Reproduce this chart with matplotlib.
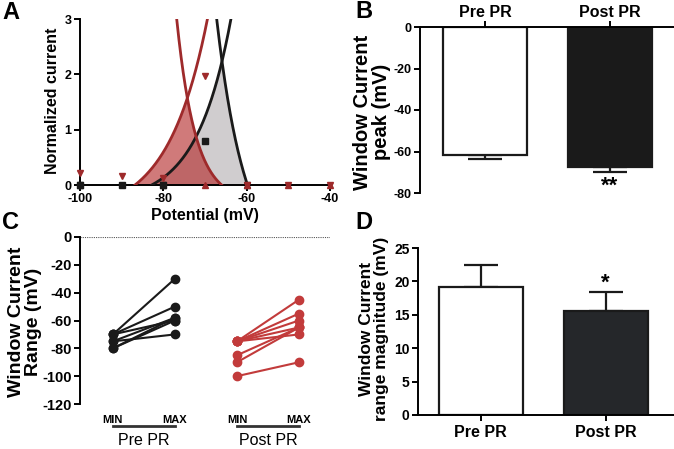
import numpy as np
import matplotlib
matplotlib.use("Agg")
import matplotlib.pyplot as plt

plt.rcParams['font.family'] = ['Liberation Sans', 'DejaVu Sans']
plt.rcParams['font.weight'] = 'bold'
plt.rcParams['axes.unicode_minus'] = False

# ---------------- data ----------------
# Panel A: exponential fits  y = amp*(exp(sign*(V - v0)/k) - 1)
black_act = dict(v0=-82.8, k=8.2, amp=0.327, sign=1)
black_inact = dict(v0=-59.8, k=7.0, amp=1.6, sign=-1)
red_act = dict(v0=-86.8, k=9.4, amp=0.56, sign=1)
red_inact = dict(v0=-66.0, k=4.5, amp=0.30, sign=-1)

a_sq_x = [-100, -90, -80, -70]
a_sq_y = [0, 0, 0, 0.8]
a_blk_tri_x = [-100, -80, -60]
a_blk_tri_y = [0, 0, 0]
a_red_dn_x = [-100, -90, -80, -70, -60, -50, -40]
a_red_dn_y = [0.22, 0.17, 0.12, 1.97, 0, 0, 0]
a_red_up_x = [-70, -60, -50, -40]
a_red_up_y = [0, 0, 0, 0]

# Panel B
groups = ['Pre PR', 'Post PR']
peak_mean = [-61.5, -67.5]
peak_err = [2.0, 2.5]

# Panel C
pre_min = [-70, -70, -75, -70, -80, -80, -75]
pre_max = [-30, -50, -58, -60, -58, -60, -70]
post_min = [-75, -75, -75, -75, -75, -85, -90, -100]
post_max = [-45, -55, -60, -65, -70, -65, -65, -90]
c_ticklabels = ['MIN', 'MAX', 'MIN', 'MAX']

# Panel D
mag_mean = [19.1, 15.6]
mag_err = [3.35, 2.85]

BLK = '#1a1a1a'
DRED = '#9e2a2b'
RED = '#c23b3b'

W, H = 674, 449
fig = plt.figure(figsize=(W / 100, H / 100), dpi=100)


def ax_px(l, t, r, b):
    return fig.add_axes([l / W, 1 - b / H, (r - l) / W, (b - t) / H])


def ylabel_px(x, y, s, size, ls=0.9):
    fig.text(x / W, 1 - y / H, s, rotation=90, ha='center', va='center',
             multialignment='center', fontsize=size, fontweight='bold', linespacing=ls)


def curve(p, V):
    return p['amp'] * (np.exp(p['sign'] * (V - p['v0']) / p['k']) - 1)


SPW = 1.4

# ---------------- Panel A ----------------
axA = ax_px(80, 19, 330, 185)
V = np.linspace(-100, -40, 2000)
ba, bi = curve(black_act, V), curve(black_inact, V)
ra, ri = curve(red_act, V), curve(red_inact, V)
bmin = np.clip(np.minimum(ba, bi), 0, None)
rmin = np.clip(np.minimum(ra, ri), 0, None)
axA.fill_between(V, 0, bmin, where=bmin > 0, color='#d0cdcf', lw=0, zorder=1)
axA.fill_between(V, 0, rmin, where=rmin > 0, color='#b22222', alpha=0.6, lw=0, zorder=2)
for arr, c in [(ba, BLK), (bi, BLK), (ra, DRED), (ri, DRED)]:
    m = arr >= 0
    axA.plot(V[m], arr[m], color=c, lw=2, zorder=3)
axA.plot(a_sq_x, a_sq_y, 's', color=BLK, ms=5, clip_on=False, zorder=5)
axA.plot(a_blk_tri_x, a_blk_tri_y, '^', color=BLK, ms=5, clip_on=False, zorder=5)
axA.plot(a_blk_tri_x, a_blk_tri_y, 'v', color=BLK, ms=5, clip_on=False, zorder=5)
axA.plot(a_red_dn_x, a_red_dn_y, 'v', color=DRED, ms=5, clip_on=False, zorder=6)
axA.plot(a_red_up_x, a_red_up_y, '^', color=DRED, ms=5, clip_on=False, zorder=6)
axA.set_xlim(-100, -40)
axA.set_ylim(0, 3)
axA.set_xticks([-100, -80, -60, -40])
axA.set_yticks([0, 1, 2, 3])
for s in ['top', 'right']:
    axA.spines[s].set_visible(False)
for s in ['left', 'bottom']:
    axA.spines[s].set_linewidth(SPW)
axA.tick_params(width=SPW, length=4, labelsize=9, pad=2)
axA.set_xlabel('Potential (mV)', fontsize=11.5, fontweight='bold', labelpad=2)
ylabel_px(53, 101, 'Normalized current', 11.5)

# ---------------- Panel B ----------------
axB = ax_px(420, 27, 674, 193)
xs = [0, 1]
axB.bar(xs, peak_mean, width=0.672, color=['white', BLK], edgecolor=BLK, lw=1.6, zorder=2)
axB.errorbar(xs, peak_mean, yerr=[peak_err, [0, 0]], fmt='none', ecolor=BLK,
             elinewidth=1.6, capsize=12, capthick=1.6, zorder=1)
axB.set_xlim(-0.52, 1.512)
axB.set_ylim(-80, 0)
axB.set_yticks([0, -20, -40, -60, -80])
axB.set_xticks(xs)
axB.xaxis.tick_top()
axB.spines['bottom'].set_visible(False)
axB.spines['right'].set_visible(False)
for s in ['left', 'top']:
    axB.spines[s].set_linewidth(SPW)
axB.tick_params(axis='y', width=SPW, length=4, labelsize=9, pad=2)
axB.tick_params(axis='x', width=SPW, length=4, pad=1, labelsize=11.5)
axB.set_xticklabels(groups, fontsize=11.5, fontweight='bold')
axB.text(1, peak_mean[1] - peak_err[1] - 6.5, '**', ha='center', va='center',
         fontsize=16, fontweight='bold')
ylabel_px(372, 112, 'Window Current\npeak (mV)', 14.5, 1.05)

# ---------------- Panel C ----------------
axC = ax_px(80, 237, 330, 404)
for a, b in zip(pre_min, pre_max):
    axC.plot([0, 1], [a, b], '-o', color=BLK, lw=1.5, ms=6, zorder=3)
for a, b in zip(post_min, post_max):
    axC.plot([2, 3], [a, b], '-o', color=RED, lw=1.5, ms=6, zorder=3)
axC.axhline(0, color='#555555', lw=0.8, ls=(0, (1, 1)))
axC.set_xlim(-0.53, 3.5)
axC.set_ylim(-120, 0)
axC.set_yticks(np.arange(-120, 1, 20))
axC.set_xticks([0, 1, 2, 3])
axC.tick_params(axis='x', length=0, pad=8)
axC.tick_params(axis='y', width=SPW, length=4, labelsize=10.5, pad=2)
axC.set_xticklabels(c_ticklabels, fontsize=8, fontweight='bold')
for s in ['top', 'right', 'bottom']:
    axC.spines[s].set_visible(False)
axC.spines['left'].set_linewidth(SPW)
ylabel_px(25, 322, 'Window Current\nRange (mV)', 14, 1.0)
trans = axC.get_xaxis_transform()
for x0, lbl in [(0, 'Pre PR'), (2, 'Post PR')]:
    axC.plot([x0, x0 + 1], [-0.132, -0.132], color='#333333', lw=2,
             transform=trans, clip_on=False)
    axC.text(x0 + 0.5, -0.216, lbl, transform=trans, ha='center', va='center',
             fontsize=11.5, fontweight='normal')

# ---------------- Panel D ----------------
axD = ax_px(418, 248, 674, 415)
axD.bar(xs, mag_mean, width=0.672, color=['white', '#25272a'], edgecolor=BLK, lw=1.6, zorder=2)
axD.errorbar(xs, mag_mean, yerr=[[0, 0], mag_err], fmt='none', ecolor=BLK,
             elinewidth=1.6, capsize=12, capthick=1.6, zorder=1)
axD.set_xlim(-0.5, 1.545)
axD.set_ylim(0, 25)
axD.set_yticks([0, 5, 10, 15, 20, 25])
axD.set_xticks(xs)
for s in ['top', 'right']:
    axD.spines[s].set_visible(False)
for s in ['left', 'bottom']:
    axD.spines[s].set_linewidth(SPW)
axD.tick_params(axis='y', width=SPW, length=4, labelsize=10, pad=2)
axD.tick_params(axis='x', width=SPW, length=4, labelsize=11.5, pad=3)
axD.set_xticklabels(groups, fontsize=11.5, fontweight='bold')
axD.text(1, mag_mean[1] + mag_err[1] + 1.3, '*', ha='center', va='center',
         fontsize=16, fontweight='bold')
ylabel_px(374, 329, 'Window Current\nrange magnitude (mV)', 12.5, 1.05)

# Panel letters
for x, y, l in [(2, 1, 'A'), (355, 0, 'B'), (2, 211, 'C'), (355, 211, 'D')]:
    fig.text(x / W, 1 - y / H, l, fontsize=17, fontweight='bold', va='top', ha='left')

fig.savefig('out.png', dpi=100)
